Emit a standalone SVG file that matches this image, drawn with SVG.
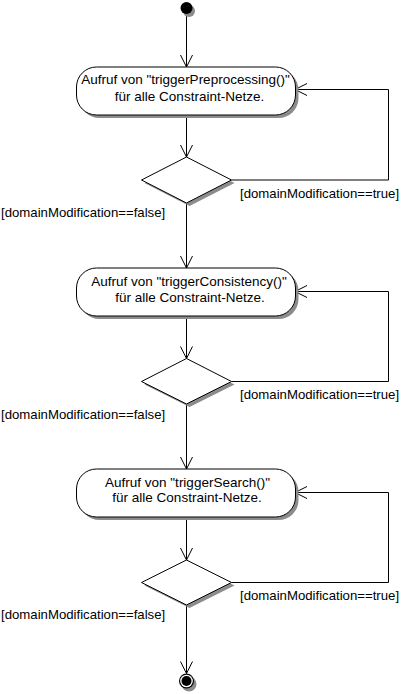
<svg xmlns="http://www.w3.org/2000/svg" width="401" height="694" viewBox="0 0 401 694">
<style>
.bg{fill:#ffffff}
.shadow{fill:#8c8c8c;stroke:none}
.node{fill:#ffffff;stroke:#000000;stroke-width:1}
.edge{fill:none;stroke:#000000;stroke-width:1}
.txt{font-family:"Liberation Sans",Arial,sans-serif;font-size:13.5px;fill:#000000}
.lbl{font-family:"Liberation Sans",Arial,sans-serif;font-size:13.2px;fill:#000000}
</style>
<defs>
<marker id="arr" markerUnits="userSpaceOnUse" markerWidth="16" markerHeight="16" viewBox="-14 -8 16 16" refX="0" refY="0" orient="auto" overflow="visible">
<path d="M-12,-6 L0,0 L-12,6" fill="none" stroke="#000000" stroke-width="1"/>
</marker>
</defs>
<rect class="bg" x="0" y="0" width="401" height="694"/>

<g id="connectors">
<path class="edge" d="M186.5,14 L186.5,67" marker-end="url(#arr)"/>
<path class="edge" d="M186.5,115 L186.5,157" marker-end="url(#arr)"/>
<path class="edge" d="M231.5,180 L388.5,180 L388.5,89.5 L295,89.5" marker-end="url(#arr)"/>
<path class="edge" d="M186.5,203 L186.5,268" marker-end="url(#arr)"/>
<path class="edge" d="M186.5,316 L186.5,358.5" marker-end="url(#arr)"/>
<path class="edge" d="M231.5,381.5 L388.5,381.5 L388.5,291.5 L295,291.5" marker-end="url(#arr)"/>
<path class="edge" d="M186.5,404 L186.5,469" marker-end="url(#arr)"/>
<path class="edge" d="M186.5,517 L186.5,560" marker-end="url(#arr)"/>
<path class="edge" d="M231.5,582.5 L388.5,582.5 L388.5,492.5 L295,492.5" marker-end="url(#arr)"/>
<path class="edge" d="M186.5,605 L186.5,673.5" marker-end="url(#arr)"/>
<text class="lbl" x="240" y="197.5">[domainModification==true]</text>
<text class="lbl" x="1" y="217">[domainModification==false]</text>
<text class="lbl" x="240" y="399">[domainModification==true]</text>
<text class="lbl" x="1" y="418.5">[domainModification==false]</text>
<text class="lbl" x="240" y="599.5">[domainModification==true]</text>
<text class="lbl" x="1" y="619">[domainModification==false]</text>
</g>

<g id="start">
<circle class="shadow" cx="189" cy="11" r="6"/>
<circle cx="186.5" cy="8" r="6" fill="#000000"/>
</g>

<g id="node1">
<rect class="shadow" x="79.5" y="70" width="219" height="48" rx="20" ry="20"/>
<rect class="node" x="76.5" y="67" width="219" height="48" rx="20" ry="20"/>
<text class="txt" x="185.5" y="84" text-anchor="middle">Aufruf von "triggerPreprocessing()"</text>
<text class="txt" x="189.5" y="100.5" text-anchor="middle">für alle Constraint-Netze.</text>
</g>

<g id="decision1">
<polygon class="shadow" points="189.5,160 234.5,183 189.5,206 144.5,183"/>
<polygon class="node" points="186.5,157 231.5,180 186.5,203 141.5,180"/>
</g>

<g id="node2">
<rect class="shadow" x="79.5" y="271" width="219" height="48" rx="20" ry="20"/>
<rect class="node" x="76.5" y="268" width="219" height="48" rx="20" ry="20"/>
<text class="txt" x="189" y="286" text-anchor="middle">Aufruf von "triggerConsistency()"</text>
<text class="txt" x="190" y="302" text-anchor="middle">für alle Constraint-Netze.</text>
</g>

<g id="decision2">
<polygon class="shadow" points="189.5,361.5 234.5,384.5 189.5,407 144.5,384.5"/>
<polygon class="node" points="186.5,358.5 231.5,381.5 186.5,404 141.5,381.5"/>
</g>

<g id="node3">
<rect class="shadow" x="79.5" y="472" width="219" height="48" rx="20" ry="20"/>
<rect class="node" x="76.5" y="469" width="219" height="48" rx="20" ry="20"/>
<text class="txt" x="187.5" y="486.5" text-anchor="middle">Aufruf von "triggerSearch()"</text>
<text class="txt" x="187" y="502" text-anchor="middle">für alle Constraint-Netze.</text>
</g>

<g id="decision3">
<polygon class="shadow" points="189.5,563 234.5,585.5 189.5,608 144.5,585.5"/>
<polygon class="node" points="186.5,560 231.5,582.5 186.5,605 141.5,582.5"/>
</g>

<g id="end">
<circle class="shadow" cx="189" cy="684" r="7.5"/>
<circle cx="186.5" cy="681" r="7.5" fill="#000000"/>
<circle cx="186.5" cy="681" r="6.3" fill="#ffffff"/>
<circle cx="186.5" cy="681" r="5" fill="#000000"/>
</g>
</svg>
